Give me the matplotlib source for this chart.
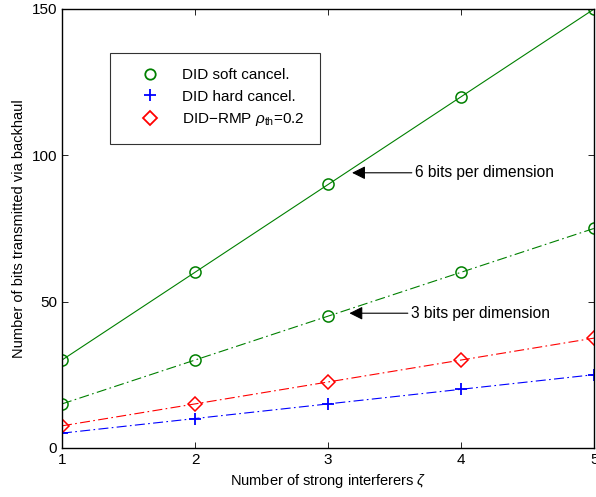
import matplotlib
matplotlib.use("Agg")
import matplotlib.pyplot as plt
from matplotlib.lines import Line2D

plt.rcParams["font.family"] = ["Liberation Sans", "DejaVu Sans"]
plt.rcParams["mathtext.fontset"] = "custom"
plt.rcParams["mathtext.rm"] = "Liberation Sans"
plt.rcParams["mathtext.it"] = "Liberation Sans:italic"

# data
zeta = [1, 2, 3, 4, 5]
soft_6bits = [30, 60, 90, 120, 150]
soft_3bits = [15, 30, 45, 60, 75]
rmp = [7.5, 15, 22.5, 30, 37.5]
hard = [5, 10, 15, 20, 25]

green = "#008000"
blue = "#0000ff"
red = "#ff0000"
dashdot = (0, (9, 3, 1.5, 3))

fig = plt.figure(figsize=(5.96, 4.97), dpi=100)
ax = fig.add_axes([0.104, 0.099, 0.893, 0.883])

mk = dict(markersize=8, markerfacecolor="none", markeredgewidth=1.1)
ax.plot(zeta, soft_6bits, "-", color=green, lw=0.8, marker="o", **mk)
ax.plot(zeta, soft_3bits, color=green, lw=0.8, ls=dashdot, marker="o", **mk)
ax.plot(zeta, rmp, color=red, lw=0.8, ls=dashdot, marker="D", markersize=7,
        markerfacecolor="none", markeredgewidth=1.1)
ax.plot(zeta, hard, color=blue, lw=0.8, ls=dashdot, marker="+", markersize=9,
        markeredgewidth=1.3)

ax.set_xlim(1, 5)
ax.set_ylim(0, 150)
ax.set_xticks(zeta)
ax.set_yticks([0, 50, 100, 150])
ax.tick_params(direction="in", top=True, right=True, labelsize=11, length=4, width=0.6)
for s in ax.spines.values():
    s.set_linewidth(1.0)

ax.set_xlabel(r"Number of strong interferers $\zeta$", fontsize=10.5)
ax.set_ylabel("Number of bits transmitted via backhaul", fontsize=10.5)

handles = [
    Line2D([], [], ls="none", color=green, marker="o", markersize=7.5,
           markerfacecolor="none", markeredgewidth=1.3),
    Line2D([], [], ls="none", color=blue, marker="+", markersize=9, markeredgewidth=1.3),
    Line2D([], [], ls="none", color=red, marker="D", markersize=7,
           markerfacecolor="none", markeredgewidth=1.3),
]
labels = ["DID soft cancel.", "DID hard cancel.", r"DID$-$RMP $\rho_{\mathrm{th}}$=0.2"]
leg = ax.legend(handles, labels, loc="upper left", bbox_to_anchor=(0.09, 0.9),
                fontsize=11, frameon=True, fancybox=False, edgecolor="black",
                borderpad=1.0, handlelength=3.2, handletextpad=0.5,
                labelspacing=0.5, borderaxespad=0)
leg.get_frame().set_linewidth(0.8)

arrow = dict(arrowstyle="-|>", color="black", lw=0.8, mutation_scale=20,
             shrinkA=0, shrinkB=0)
ax.annotate("6 bits per dimension", xy=(3.18, 94), xytext=(3.65, 94),
            fontsize=11.2, va="center", ha="left", arrowprops=arrow)
ax.annotate("3 bits per dimension", xy=(3.16, 46), xytext=(3.62, 46),
            fontsize=11.2, va="center", ha="left", arrowprops=arrow)

fig.savefig("out.png", dpi=100)
